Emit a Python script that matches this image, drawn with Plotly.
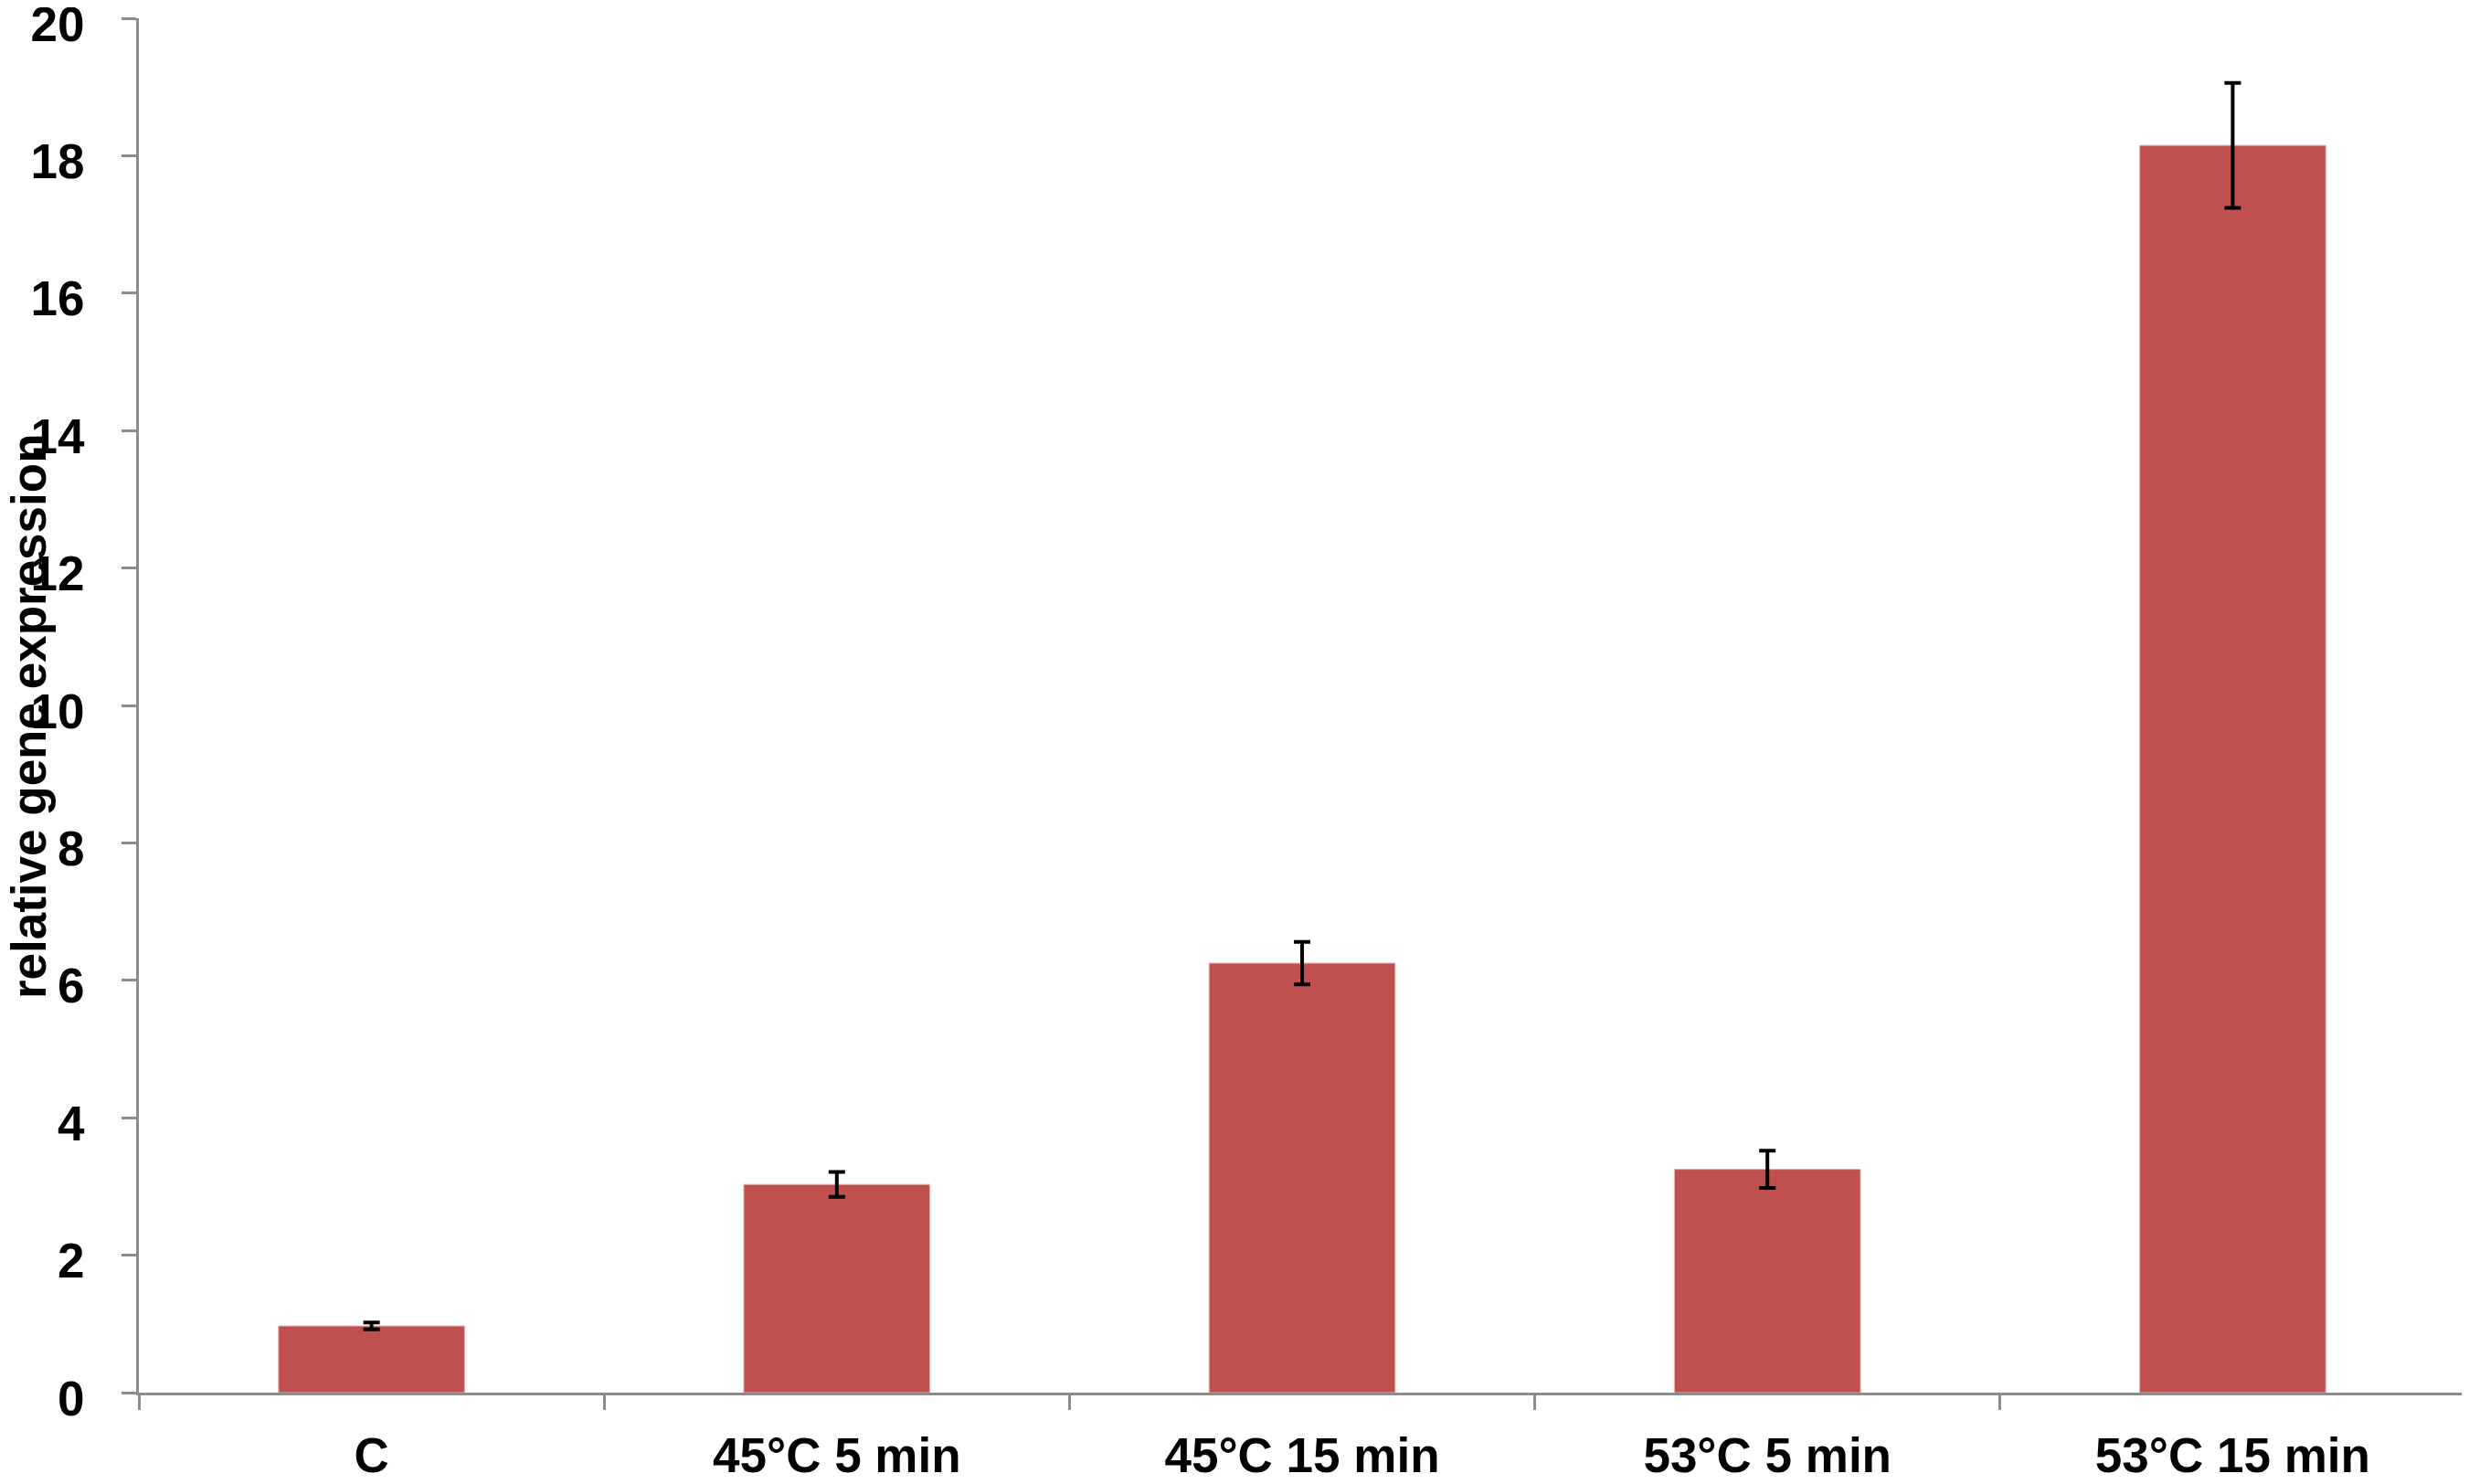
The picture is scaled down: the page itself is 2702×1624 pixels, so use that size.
import plotly.graph_objects as go

categories = ["C", "45°C 5 min", "45°C 15 min", "53°C 5 min", "53°C 15 min"]
values = [0.97, 3.03, 6.25, 3.25, 18.15]
errors = [0.05, 0.18, 0.31, 0.27, 0.91]
y_ticks = [0, 2, 4, 6, 8, 10, 12, 14, 16, 18, 20]

FONT = "Liberation Sans, Arial, sans-serif"
AXIS_COLOR = "#8c8c8c"

fig = go.Figure()
fig.add_trace(go.Bar(
    x=categories,
    y=values,
    marker=dict(color="#C0504D", line=dict(color="#e8b4b3", width=1)),
    error_y=dict(type="data", array=errors, visible=True, color="black",
                 thickness=4, width=9),
    width=0.4,
))

fig.update_layout(
    width=2694, height=1616,
    margin=dict(l=144, r=4, t=12, b=100),
    paper_bgcolor="white", plot_bgcolor="white",
    showlegend=False,
    font=dict(family=FONT, color="black"),
)
fig.update_xaxes(
    type="category", range=[-0.5, 4.5], automargin=False,
    showline=True, linecolor=AXIS_COLOR, linewidth=3,
    ticks="outside", tickson="boundaries", ticklen=16, tickwidth=3, tickcolor=AXIS_COLOR,
    tickfont=dict(family=FONT, size=53, color="black", weight="bold"),
    ticklabelstandoff=20,
    showgrid=False, zeroline=False,
)
fig.update_yaxes(
    range=[0, 20], tickvals=y_ticks, ticktext=[str(v) for v in y_ticks],
    automargin=False, ticklabeloverflow="allow", ticklabelshift=6,
    showline=True, linecolor=AXIS_COLOR, linewidth=3,
    ticks="outside", ticklen=16, tickwidth=3, tickcolor=AXIS_COLOR,
    tickfont=dict(family=FONT, size=53, color="black", weight="bold"),
    ticklabelstandoff=30,
    showgrid=False, zeroline=False,
)
fig.add_annotation(
    text="relative gene expression", textangle=-90,
    xref="paper", yref="paper", x=-0.0475, y=0.492, xanchor="center", yanchor="middle",
    showarrow=False,
    font=dict(family=FONT, size=53, color="black", weight="bold"),
)

fig.write_html("out.html")
